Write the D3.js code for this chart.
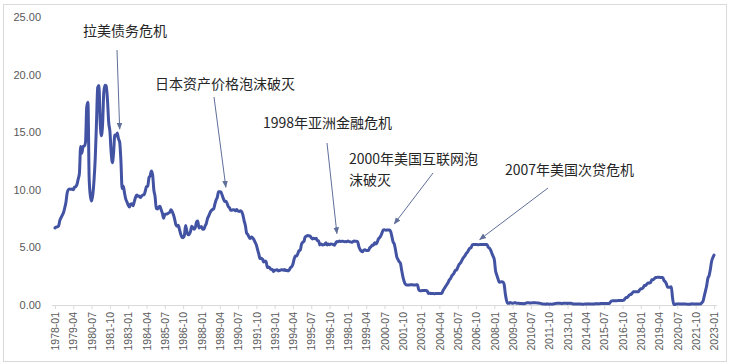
<!DOCTYPE html>
<html>
<head>
<meta charset="utf-8">
<script src="https://cdn.jsdelivr.net/npm/d3@7"></script>
<style>
  body { margin: 0; background: #fff; }
  svg { display: block; }
</style>
</head>
<body>
<svg id="chart" width="729" height="364"></svg>
<script>
// effective fed funds rate, monthly, 1978-01 .. 2023-01
var startMonth = "1978-01";
var rate = [
  6.70, 6.78, 6.79, 6.89, 7.36, 7.60, 7.81, 8.04, 8.45, 8.96, 9.76, 10.03,   // 1978
  10.07, 10.06, 10.09, 10.01, 10.24, 10.29, 10.47, 10.94, 11.43, 13.77, 13.18, 13.78,
  13.82, 14.13, 17.19, 17.61, 10.98, 9.47, 9.03, 9.61, 10.87, 12.81, 15.85, 18.90,   // 1980
  19.08, 15.93, 14.70, 15.72, 18.52, 19.10, 19.04, 17.82, 15.87, 15.08, 13.31, 12.37,
  13.22, 14.78, 14.68, 14.94, 14.45, 14.15, 12.59, 10.12, 10.31, 9.71, 9.20, 8.95,
  8.68, 8.51, 8.77, 8.80, 8.63, 8.98, 9.37, 9.56, 9.45, 9.48, 9.34, 9.47,
  9.56, 9.59, 9.91, 10.29, 10.32, 11.06, 11.23, 11.64, 11.30, 9.99, 9.43, 8.38,
  8.35, 8.50, 8.58, 8.27, 7.97, 7.53, 7.88, 7.90, 7.92, 7.99, 8.05, 8.27,   // 1985
  8.14, 7.86, 7.48, 6.99, 6.85, 6.92, 6.56, 6.17, 5.89, 5.85, 6.04, 6.91,
  6.43, 6.10, 6.13, 6.37, 6.85, 6.73, 6.58, 6.73, 7.22, 7.29, 6.69, 6.77,
  6.83, 6.58, 6.58, 6.87, 7.09, 7.51, 7.75, 8.01, 8.19, 8.30, 8.35, 8.76,
  9.12, 9.36, 9.85, 9.84, 9.81, 9.53, 9.24, 8.99, 9.02, 8.84, 8.55, 8.45,
  8.23, 8.24, 8.28, 8.26, 8.18, 8.29, 8.15, 8.13, 8.20, 8.11, 7.81, 7.31,   // 1990
  6.91, 6.25, 6.12, 5.91, 5.78, 5.90, 5.82, 5.66, 5.45, 5.21, 4.81, 4.43,
  4.03, 4.06, 3.98, 3.73, 3.82, 3.76, 3.25, 3.30, 3.22, 3.10, 3.09, 2.92,
  3.02, 3.03, 3.07, 2.96, 3.00, 3.04, 3.06, 3.03, 3.09, 2.99, 3.02, 2.96,
  3.05, 3.25, 3.34, 3.56, 4.01, 4.25, 4.26, 4.47, 4.73, 4.76, 5.29, 5.45,
  5.53, 5.92, 5.98, 6.05, 6.01, 6.00, 5.85, 5.74, 5.80, 5.76, 5.80, 5.60,   // 1995
  5.56, 5.22, 5.31, 5.22, 5.24, 5.27, 5.40, 5.22, 5.30, 5.24, 5.31, 5.29,
  5.25, 5.19, 5.39, 5.51, 5.50, 5.56, 5.52, 5.54, 5.54, 5.50, 5.52, 5.50,
  5.56, 5.51, 5.49, 5.45, 5.49, 5.56, 5.54, 5.55, 5.51, 5.07, 4.83, 4.68,
  4.63, 4.76, 4.81, 4.74, 4.74, 4.76, 4.99, 5.07, 5.22, 5.20, 5.42, 5.30,
  5.45, 5.73, 5.85, 6.02, 6.27, 6.53, 6.54, 6.50, 6.52, 6.51, 6.51, 6.40,   // 2000
  5.98, 5.49, 5.31, 4.80, 4.21, 3.97, 3.77, 3.65, 3.07, 2.49, 2.09, 1.82,
  1.73, 1.74, 1.73, 1.75, 1.75, 1.75, 1.73, 1.74, 1.75, 1.75, 1.34, 1.24,
  1.24, 1.26, 1.25, 1.26, 1.26, 1.22, 1.01, 1.03, 1.01, 1.01, 1.00, 0.98,
  1.00, 1.01, 1.00, 1.00, 1.00, 1.03, 1.26, 1.43, 1.61, 1.76, 1.93, 2.16,
  2.28, 2.50, 2.63, 2.79, 3.00, 3.04, 3.26, 3.50, 3.62, 3.78, 4.00, 4.16,   // 2005
  4.29, 4.49, 4.59, 4.79, 4.94, 4.99, 5.24, 5.25, 5.25, 5.25, 5.25, 5.24,
  5.25, 5.26, 5.26, 5.25, 5.25, 5.25, 5.26, 5.02, 4.94, 4.76, 4.49, 4.24,
  3.94, 2.98, 2.61, 2.28, 1.98, 2.00, 2.01, 2.00, 1.81, 0.97, 0.39, 0.16,
  0.15, 0.22, 0.18, 0.15, 0.18, 0.21, 0.16, 0.16, 0.15, 0.12, 0.12, 0.12,
  0.11, 0.13, 0.16, 0.20, 0.20, 0.18, 0.18, 0.19, 0.19, 0.19, 0.19, 0.18,   // 2010
  0.17, 0.16, 0.14, 0.10, 0.09, 0.09, 0.07, 0.10, 0.08, 0.07, 0.08, 0.07,
  0.08, 0.10, 0.13, 0.14, 0.16, 0.16, 0.16, 0.13, 0.14, 0.16, 0.16, 0.16,
  0.14, 0.15, 0.14, 0.15, 0.11, 0.09, 0.09, 0.08, 0.08, 0.09, 0.08, 0.09,
  0.07, 0.07, 0.08, 0.09, 0.09, 0.10, 0.09, 0.09, 0.09, 0.09, 0.09, 0.12,
  0.11, 0.11, 0.11, 0.12, 0.12, 0.13, 0.13, 0.14, 0.14, 0.12, 0.12, 0.24,   // 2015
  0.34, 0.38, 0.36, 0.37, 0.37, 0.38, 0.39, 0.40, 0.40, 0.40, 0.41, 0.54,
  0.65, 0.66, 0.79, 0.90, 0.91, 1.04, 1.15, 1.16, 1.15, 1.15, 1.16, 1.30,
  1.41, 1.42, 1.51, 1.69, 1.70, 1.82, 1.91, 1.91, 1.95, 2.19, 2.20, 2.27,
  2.40, 2.40, 2.41, 2.42, 2.39, 2.38, 2.40, 2.13, 2.04, 1.83, 1.55, 1.55,
  1.55, 1.58, 0.65, 0.05, 0.05, 0.08, 0.09, 0.10, 0.09, 0.09, 0.09, 0.09,   // 2020
  0.09, 0.08, 0.07, 0.07, 0.06, 0.08, 0.10, 0.09, 0.08, 0.08, 0.08, 0.08,
  0.08, 0.08, 0.20, 0.33, 0.77, 1.21, 1.68, 2.33, 2.56, 3.08, 3.78, 4.10,
  4.33                                                                       // 2023
];

var xTickLabels = [
  "1978-01", "1979-04", "1980-07", "1981-10", "1983-01", "1984-04", "1985-07",
  "1986-10", "1988-01", "1989-04", "1990-07", "1991-10", "1993-01", "1994-04",
  "1995-07", "1996-10", "1998-01", "1999-04", "2000-07", "2001-10", "2003-01",
  "2004-04", "2005-07", "2006-10", "2008-01", "2009-04", "2010-07", "2011-10",
  "2013-01", "2014-04", "2015-07", "2016-10", "2018-01", "2019-04", "2020-07",
  "2021-10", "2023-01"
];
var yTicks = [0, 5, 10, 15, 20, 25];

var noteText = [
  ["拉美债务危机"],
  ["日本资产价格泡沫破灭"],
  ["1998年亚洲金融危机"],
  ["2000年美国互联网泡", "沫破灭"],
  ["2007年美国次贷危机"]
];
var noteMonth = ["1982-06", "1989-09", "1997-04", "2001-03", "2007-01"];

// month categories
var fmt = d3.timeFormat("%Y-%m");
var t0 = d3.timeParse("%Y-%m")(startMonth);
var months = rate.map(function(v, i) { return fmt(d3.timeMonth.offset(t0, i)); });
var data = months.map(function(m, i) { return { month: m, value: rate[i] }; });

var svg = d3.select("#chart");
var W = 729, H = 364;

// chart border
svg.append("rect")
  .attr("x", 3.5).attr("y", 4.5)
  .attr("width", 723).attr("height", 357)
  .attr("fill", "#fff")
  .attr("stroke", "#d9d9d9");

var x = d3.scalePoint().domain(months).range([55, 714]);
var y = d3.scaleLinear().domain([0, 25]).range([305, 17.3]);

// y axis labels (no line)
var yAxis = svg.append("g")
  .attr("transform", "translate(44,0)")
  .call(d3.axisLeft(y).tickValues(yTicks).tickSize(0).tickPadding(3)
    .tickFormat(d3.format(".2f")));
yAxis.select(".domain").remove();
yAxis.selectAll("text")
  .attr("fill", "#595959")
  .style("font-family", "Liberation Sans, Arial, sans-serif")
  .style("font-size", "11px");

// x axis
var xAxis = svg.append("g")
  .attr("transform", "translate(0,305)")
  .call(d3.axisBottom(x).tickValues(xTickLabels).tickSize(4).tickSizeOuter(0));
xAxis.select(".domain")
  .attr("stroke", "#d9d9d9")
  .attr("d", "M52,0.5H717");
xAxis.selectAll(".tick line").attr("stroke", "#d9d9d9");
xAxis.selectAll("text")
  .attr("fill", "#595959")
  .style("font-family", "Liberation Sans, Arial, sans-serif")
  .style("font-size", "10.5px")
  .attr("transform", "rotate(-90)")
  .attr("text-anchor", "end")
  .attr("x", -7)
  .attr("y", 0)
  .attr("dy", "0.35em");

// the series
var line = d3.line()
  .x(function(d) { return x(d.month); })
  .y(function(d) { return y(d.value); })
  .curve(d3.curveMonotoneX);

svg.append("path")
  .datum(data)
  .attr("fill", "none")
  .attr("stroke", "#4353a3")
  .attr("stroke-width", 3)
  .attr("stroke-linejoin", "round")
  .attr("stroke-linecap", "round")
  .attr("d", line);

// annotations
svg.append("defs").append("marker")
  .attr("id", "arrow")
  .attr("viewBox", "0 0 10 10")
  .attr("refX", 9).attr("refY", 5)
  .attr("markerWidth", 7).attr("markerHeight", 7)
  .attr("orient", "auto")
  .append("path")
  .attr("d", "M0,1L10,5L0,9Z")
  .attr("fill", "#5f6f9a");

// label position, arrow start, gap above the line
var noteLayout = [
  { tx: 83,  ty: 36,  sx: 117, sy: 50,  gap: 13 },
  { tx: 155, ty: 89,  sx: 214, sy: 97,  gap: 14 },
  { tx: 263, ty: 128, sx: 327, sy: 143, gap: 8 },
  { tx: 349, ty: 164, sx: 433, sy: 173, gap: 20 },
  { tx: 505, ty: 175, sx: 548, sy: 188, gap: 5 }
];

noteText.forEach(function(lines, i) {
  var L = noteLayout[i];
  var m = noteMonth[i];
  var v = rate[months.indexOf(m)];
  svg.append("line")
    .attr("x1", L.sx).attr("y1", L.sy)
    .attr("x2", x(m)).attr("y2", y(v) - L.gap)
    .attr("stroke", "#5f6f9a")
    .attr("stroke-width", 1)
    .attr("marker-end", "url(#arrow)");
  var t = svg.append("text")
    .attr("x", L.tx).attr("y", L.ty)
    .attr("fill", "#262626")
    .style("font-family", "Noto Sans CJK SC, sans-serif")
    .style("font-size", "14px");
  lines.forEach(function(s, k) {
    t.append("tspan").attr("x", L.tx).attr("dy", k ? 21 : 0).text(s);
  });
});
</script>
</body>
</html>
